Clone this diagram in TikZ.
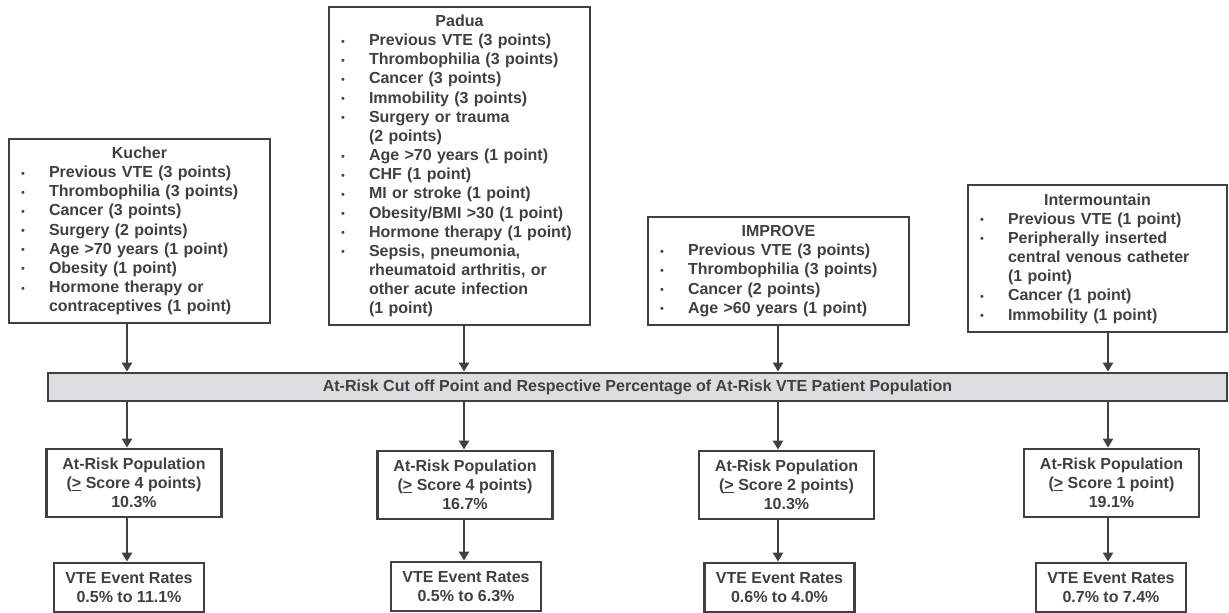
\documentclass[tikz,border=0pt]{standalone}
\usepackage{fontspec}
\setmainfont{Liberation Sans}
\usepackage{tikz}
\usetikzlibrary{arrows.meta}

\definecolor{boxgray}{HTML}{404040}
\definecolor{bargray}{HTML}{DCDDDF}

\newlength{\bulind}
\setlength{\bulind}{36pt}
\newcommand{\scoretitle}[1]{{\centering #1\par}}
\newcommand{\riskitem}[1]{\par\noindent\hangindent=\bulind\hangafter=1\makebox[\bulind][l]{\hspace{8pt}\raisebox{0.5pt}{\mdseries\fontsize{11}{11}\selectfont\textbullet}}#1}

\begin{document}
\begin{tikzpicture}[x=1pt,y=-1pt,
		every node/.style={font=\fontsize{16}{19.15}\selectfont\bfseries, text=boxgray},
		scorebox/.style={draw=boxgray, line width=2.8pt, fill=white, inner xsep=4pt, inner ysep=0pt, text width=253pt},
		popbox/.style={draw=boxgray, line width=2.8pt, fill=white, align=center, inner sep=0pt, minimum width=175pt, minimum height=68pt},
		ratebox/.style={draw=boxgray, line width=2.8pt, fill=white, align=center, inner sep=0pt, minimum width=150pt, minimum height=49pt},
		flow/.style={draw=boxgray, line width=2.8pt, -{Triangle[width=10pt,length=9pt]}}]
						\useasboundingbox (0,0) rectangle (1229,613);
						
						% Define the columns of the arrows
						\coordinate (c1) at (127,0);
						\coordinate (c2) at (464,0);
						\coordinate (c3) at (778,0);
						\coordinate (c4) at (1108,0);
						
						% Define the scores
						\node[scorebox, minimum height=184pt] (kucher) at (139.5,231) {\scoretitle{Kucher}
							\riskitem{Previous VTE (3 points)}
							\riskitem{Thrombophilia (3 points)}
							\riskitem{Cancer (3 points)}
							\riskitem{Surgery (2 points)}
							\riskitem{Age >70 years (1 point)}
							\riskitem{Obesity (1 point)}
							\riskitem{Hormone therapy or\newline contraceptives (1 point)}\par};
						\node[scorebox, minimum height=318pt] (padua) at (459.5,166) {\scoretitle{Padua}
							\riskitem{Previous VTE (3 points)}
							\riskitem{Thrombophilia (3 points)}
							\riskitem{Cancer (3 points)}
							\riskitem{Immobility (3 points)}
							\riskitem{Surgery or trauma\newline (2 points)}
							\riskitem{Age >70 years (1 point)}
							\riskitem{CHF (1 point)}
							\riskitem{MI or stroke (1 point)}
							\riskitem{Obesity/BMI >30 (1 point)}
							\riskitem{Hormone therapy (1 point)}
							\riskitem{Sepsis, pneumonia,\newline rheumatoid arthritis, or\newline other acute infection\newline (1 point)}\par};
						\node[scorebox, minimum height=108pt] (improve) at (778.5,271) {\scoretitle{IMPROVE}
							\riskitem{Previous VTE (3 points)}
							\riskitem{Thrombophilia (3 points)}
							\riskitem{Cancer (2 points)}
							\riskitem{Age >60 years (1 point)}\par};
						\node[scorebox, text width=251pt, minimum height=147pt] (inter) at (1097.5,258.5) {\scoretitle{Intermountain}
							\riskitem{Previous VTE (1 point)}
							\riskitem{Peripherally inserted\newline central venous catheter\newline (1 point)}
							\riskitem{Cancer (1 point)}
							\riskitem{Immobility (1 point)}\par};
						
						% Define the cut off bar
						\node[draw=boxgray, line width=2.8pt, fill=bargray, inner sep=0pt, minimum width=1179pt, minimum height=28pt] (bar) at (637.5,387) {At-Risk Cut off Point and Respective Percentage of At-Risk VTE Patient Population};
						
						% Define the at-risk populations and event rates
						\node[popbox] (pop1) at (134,483) {At-Risk Population\\(\underline{>} Score 4 points)\\10.3\%};
						\node[popbox] (pop2) at (465,485) {At-Risk Population\\(\underline{>} Score 4 points)\\16.7\%};
						\node[popbox] (pop3) at (786.5,485) {At-Risk Population\\(\underline{>} Score 2 points)\\10.3\%};
						\node[popbox] (pop4) at (1111.5,483) {At-Risk Population\\(\underline{>} Score 1 point)\\19.1\%};
						\node[ratebox] (rate1) at (129,587.5) {VTE Event Rates\\0.5\% to 11.1\%};
						\node[ratebox] (rate2) at (466,586.5) {VTE Event Rates\\0.5\% to 6.3\%};
						\node[ratebox] (rate3) at (779.5,587.5) {VTE Event Rates\\0.6\% to 4.0\%};
						\node[ratebox] (rate4) at (1111,587.5) {VTE Event Rates\\0.7\% to 7.4\%};
						
						% Draw the arrows
						\draw[flow] (kucher.south -| c1) -- (bar.north -| c1);
						\draw[flow] (padua.south -| c2) -- (bar.north -| c2);
						\draw[flow] (improve.south -| c3) -- (bar.north -| c3);
						\draw[flow] (inter.south -| c4) -- (bar.north -| c4);
						\draw[flow] (bar.south -| c1) -- (pop1.north -| c1);
						\draw[flow] (bar.south -| c2) -- (pop2.north -| c2);
						\draw[flow] (bar.south -| c3) -- (pop3.north -| c3);
						\draw[flow] (bar.south -| c4) -- (pop4.north -| c4);
						\draw[flow] (pop1.south -| c1) -- (rate1.north -| c1);
						\draw[flow] (pop2.south -| c2) -- (rate2.north -| c2);
						\draw[flow] (pop3.south -| c3) -- (rate3.north -| c3);
						\draw[flow] (pop4.south -| c4) -- (rate4.north -| c4);
					\end{tikzpicture}
\end{document}
